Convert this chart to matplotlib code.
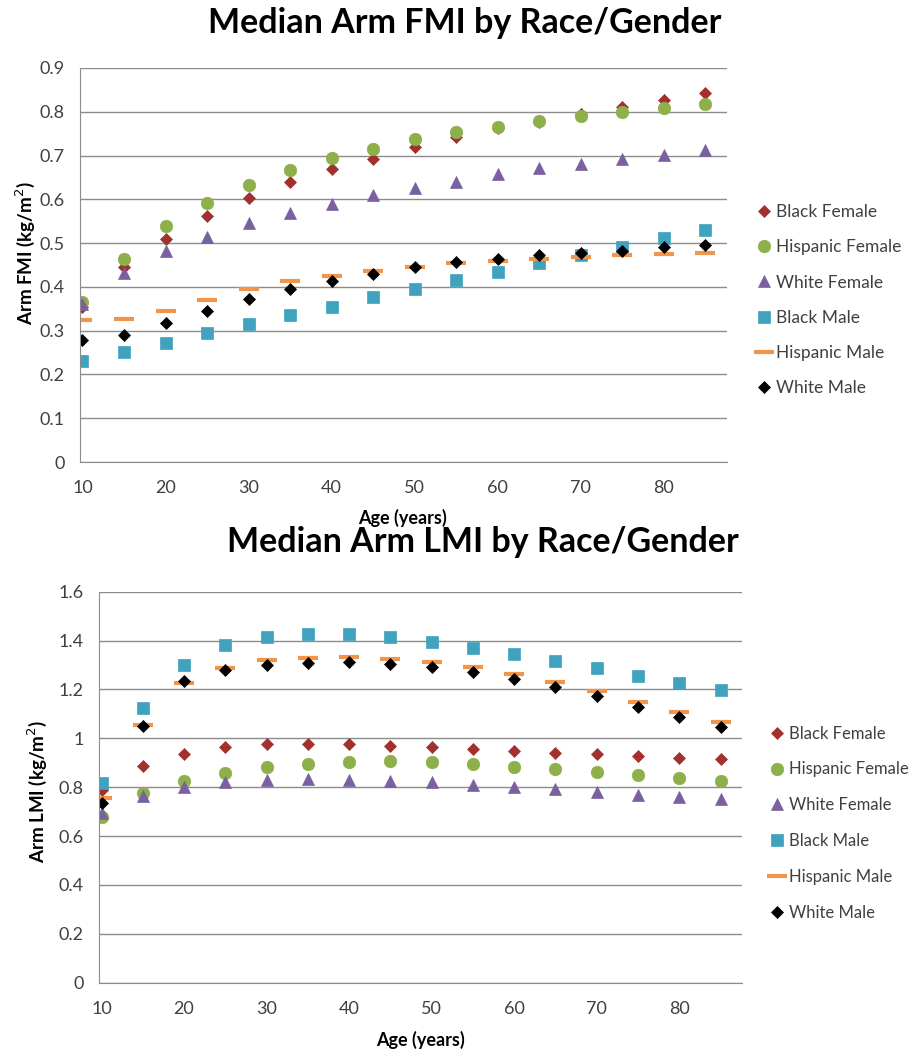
import matplotlib
matplotlib.use("Agg")
import matplotlib.pyplot as plt

plt.rcParams["font.family"] = ["Lato", "DejaVu Sans"]

ages = [10, 15, 20, 25, 30, 35, 40, 45, 50, 55, 60, 65, 70, 75, 80, 85]
groups = ["Black Female", "Hispanic Female", "White Female",
          "Black Male", "Hispanic Male", "White Male"]

# Arm FMI (kg/m2), medians
fmi_black_f = [0.354, 0.446, 0.509, 0.562, 0.602, 0.639, 0.669, 0.693,
               0.719, 0.743, 0.762, 0.777, 0.796, 0.812, 0.826, 0.842]
fmi_hisp_f = [0.366, 0.463, 0.538, 0.591, 0.632, 0.667, 0.694, 0.716,
              0.737, 0.754, 0.766, 0.779, 0.790, 0.800, 0.809, 0.817]
fmi_white_f = [0.360, 0.431, 0.481, 0.513, 0.545, 0.568, 0.589, 0.610,
               0.627, 0.640, 0.657, 0.671, 0.680, 0.691, 0.701, 0.712]
fmi_black_m = [0.230, 0.252, 0.273, 0.294, 0.315, 0.335, 0.355, 0.376,
               0.396, 0.416, 0.435, 0.454, 0.474, 0.492, 0.511, 0.529]
fmi_hisp_m = [0.325, 0.327, 0.344, 0.369, 0.395, 0.414, 0.426, 0.437,
              0.445, 0.454, 0.459, 0.463, 0.468, 0.472, 0.475, 0.478]
fmi_white_m = [0.278, 0.290, 0.317, 0.346, 0.373, 0.395, 0.414, 0.429,
               0.445, 0.456, 0.464, 0.473, 0.478, 0.483, 0.490, 0.496]

# Arm LMI (kg/m2)
lmi_black_f = [0.789, 0.888, 0.936, 0.966, 0.975, 0.975, 0.975, 0.970,
               0.966, 0.956, 0.948, 0.941, 0.935, 0.928, 0.921, 0.915]
lmi_hisp_f = [0.679, 0.775, 0.825, 0.859, 0.881, 0.895, 0.903, 0.906,
              0.902, 0.894, 0.884, 0.873, 0.861, 0.850, 0.839, 0.827]
lmi_white_f = [0.696, 0.765, 0.802, 0.820, 0.829, 0.834, 0.829, 0.827,
               0.823, 0.809, 0.802, 0.791, 0.780, 0.768, 0.758, 0.750]
lmi_black_m = [0.819, 1.123, 1.300, 1.382, 1.416, 1.427, 1.427, 1.413,
               1.393, 1.368, 1.344, 1.317, 1.287, 1.255, 1.225, 1.198]
lmi_hisp_m = [0.754, 1.055, 1.225, 1.289, 1.321, 1.330, 1.334, 1.326,
              1.312, 1.291, 1.263, 1.231, 1.194, 1.150, 1.106, 1.065]
lmi_white_m = [0.737, 1.052, 1.235, 1.280, 1.299, 1.310, 1.314, 1.304,
               1.291, 1.270, 1.244, 1.209, 1.173, 1.130, 1.086, 1.045]

styles = [
    dict(marker="D", color="#A0312E", ms=6.5),
    dict(marker="o", color="#8DB04B", ms=9),
    dict(marker="^", color="#7A60A0", ms=9),
    dict(marker="s", color="#3FA3BE", ms=9),
    dict(marker="_", color="#F0954A", ms=14, mew=3),
    dict(marker="D", color="#000000", ms=6.5),
]

GRID = "#8C8C8C"
TXT = "#404040"


def draw(ax, series, ylim, yticks, ylabel, ylab_pos, xlab_pos, leg_anchor, leg_fs, leg_ls):
    for name, vals, st in zip(groups, series, styles):
        ax.plot(ages, vals, linestyle="none", marker=st["marker"],
                color=st["color"], markersize=st["ms"],
                markeredgewidth=st.get("mew", 0.5), label=name)
    ax.set_xlim(9.7, 87.6)
    ax.set_ylim(*ylim)
    ax.set_yticks(yticks)
    ax.set_yticklabels([f"{t:g}" for t in yticks])
    ax.set_xticks([10, 20, 30, 40, 50, 60, 70, 80])
    ax.grid(axis="y", color=GRID, linewidth=1)
    ax.set_axisbelow(True)
    for s in ["top", "right"]:
        ax.spines[s].set_visible(False)
    ax.spines["left"].set_color(GRID)
    ax.spines["bottom"].set_color(GRID)
    ax.tick_params(length=0, labelsize=13, labelcolor=TXT)
    ax.tick_params(axis="x", pad=13)
    ax.tick_params(axis="y", pad=11)
    ax.set_xlabel("Age (years)", fontsize=13, fontweight="bold", va="center")
    ax.xaxis.set_label_coords(*xlab_pos)
    ax.set_ylabel(ylabel, fontsize=13.5, fontweight="bold", va="center")
    ax.yaxis.set_label_coords(*ylab_pos)
    ax.legend(loc="center left", bbox_to_anchor=leg_anchor, frameon=False,
              fontsize=leg_fs, labelcolor=TXT, labelspacing=leg_ls,
              handlelength=0.6, handletextpad=0.4, borderaxespad=0)


fig = plt.figure(figsize=(9.12, 10.51), dpi=100)
ax1 = fig.add_axes([0.0877, 0.5604, 0.7094, 0.3749])
ax2 = fig.add_axes([0.1086, 0.0650, 0.7050, 0.3720])

draw(ax1, [fmi_black_f, fmi_hisp_f, fmi_white_f, fmi_black_m, fmi_hisp_m, fmi_white_m],
     (0, 0.9), [0, 0.1, 0.2, 0.3, 0.4, 0.5, 0.6, 0.7, 0.8, 0.9],
     "Arm FMI (kg/m$^2$)", (-0.085, 0.53), (0.499, -0.142), (1.038, 0.411), 12.5, 1.1)
draw(ax2, [lmi_black_f, lmi_hisp_f, lmi_white_f, lmi_black_m, lmi_hisp_m, lmi_white_m],
     (0, 1.6), [0, 0.2, 0.4, 0.6, 0.8, 1, 1.2, 1.4, 1.6],
     "Arm LMI (kg/m$^2$)", (-0.096, 0.49), (0.5, -0.147), (1.037, 0.408), 12, 1.19)

fig.text(465 / 912, 1 - 33 / 1051, "Median Arm FMI by Race/Gender",
         ha="center", va="baseline", fontsize=24.5, fontweight="bold")
fig.text(483 / 912, 1 - 552 / 1051, "Median Arm LMI by Race/Gender",
         ha="center", va="baseline", fontsize=24.5, fontweight="bold")

fig.savefig("out.png", dpi=100)
